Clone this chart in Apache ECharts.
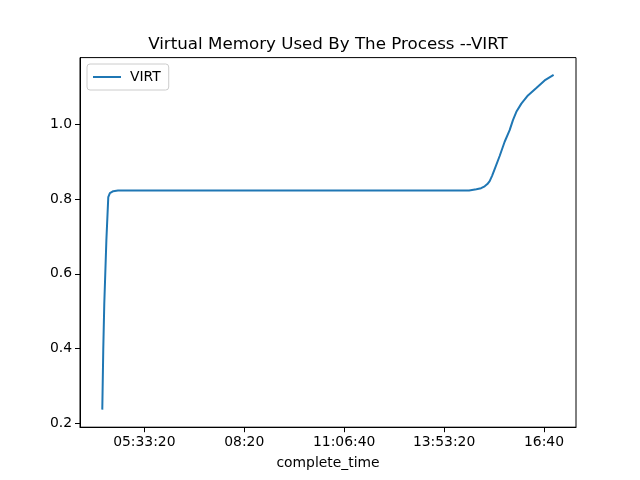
<!DOCTYPE html>
<html>
<head>
<meta charset="utf-8">
<script src="https://cdn.jsdelivr.net/npm/echarts@6/dist/echarts.min.js"></script>
<style>
  html, body { margin: 0; padding: 0; background: #fff; }
  #chart { width: 640px; height: 480px; }
</style>
</head>
<body>
<div id="chart"></div>
<script>
// seconds since midnight
const times = [
  15790, 15890, 15990, 16060, 16200, 16390, 16550, 16890, 17360,
  20000, 30000, 40000, 50000, 51560, 52500, 53230, 53700, 54060, 54330,
  54560, 54800, 55060, 55560, 56060, 56560, 56890, 57230, 57730, 58390,
  59230, 60060, 60960
];
const virt = [
  0.237, 0.40, 0.52, 0.576, 0.69, 0.805, 0.816, 0.821, 0.8225,
  0.8225, 0.8225, 0.8225, 0.8225, 0.8225, 0.823, 0.826, 0.829, 0.834, 0.840,
  0.848, 0.862, 0.880, 0.915, 0.953, 0.984, 1.011, 1.033, 1.055, 1.077,
  1.097, 1.117, 1.132
];
const xTickValues = [20000, 30000, 40000, 50000, 60000];
const xTickLabels = ['05:33:20', '08:20', '11:06:40', '13:53:20', '16:40'];
const yTickValues = [0.2, 0.4, 0.6, 0.8, 1.0];

const chart = echarts.init(document.getElementById('chart'));
const font = 'DejaVu Sans';

chart.setOption({
  animation: false,
  textStyle: { fontFamily: font },
  title: {
    text: 'Virtual Memory Used By The Process --VIRT',
    left: 323,
    textAlign: 'center',
    top: 31,
    textStyle: { fontFamily: font, fontSize: 16.7, fontWeight: 'normal', color: '#000' }
  },
  legend: {
    left: 87,
    top: 64,
    padding: [6, 8, 6, 6],
    backgroundColor: 'rgba(255,255,255,0.8)',
    borderColor: '#ccc',
    borderWidth: 1,
    borderRadius: 3,
    icon: 'rect',
    itemWidth: 28,
    itemHeight: 2,
    itemGap: 10,
    textStyle: { fontFamily: font, fontSize: 13.9, color: '#000', padding: [0, 0, 0, 4] },
    data: ['VIRT']
  },
  grid: {
    left: 80, right: 64, top: 57.6, bottom: 52.8,
    show: true, borderColor: '#000', borderWidth: 1, backgroundColor: 'transparent'
  },
  xAxis: {
    type: 'value',
    min: 13560,
    max: 63200,
    name: 'complete_time',
    nameLocation: 'middle',
    nameGap: 29,
    nameTextStyle: { fontFamily: font, fontSize: 13.9, color: '#000' },
    axisLine: { lineStyle: { color: '#000', width: 1 } },
    axisTick: { show: true, length: 5, lineStyle: { color: '#000' }, customValues: xTickValues },
    axisLabel: {
      color: '#000', fontSize: 13.9, margin: 8,
      customValues: xTickValues,
      formatter: v => xTickLabels[xTickValues.indexOf(v)]
    },
    splitLine: { show: false }
  },
  yAxis: {
    type: 'value',
    min: 0.19,
    max: 1.178,
    axisLine: { show: true, lineStyle: { color: '#000', width: 1 } },
    axisTick: { show: true, length: 5, lineStyle: { color: '#000' }, customValues: yTickValues },
    axisLabel: {
      color: '#000', fontSize: 13.9, margin: 8,
      customValues: yTickValues,
      formatter: v => v.toFixed(1)
    },
    splitLine: { show: false }
  },
  series: [{
    name: 'VIRT',
    type: 'line',
    showSymbol: false,
    smooth: false,
    color: '#1f77b4',
    lineStyle: { width: 2, color: '#1f77b4' },
    data: times.map((t, i) => [t, virt[i]])
  }]
});
</script>
</body>
</html>
